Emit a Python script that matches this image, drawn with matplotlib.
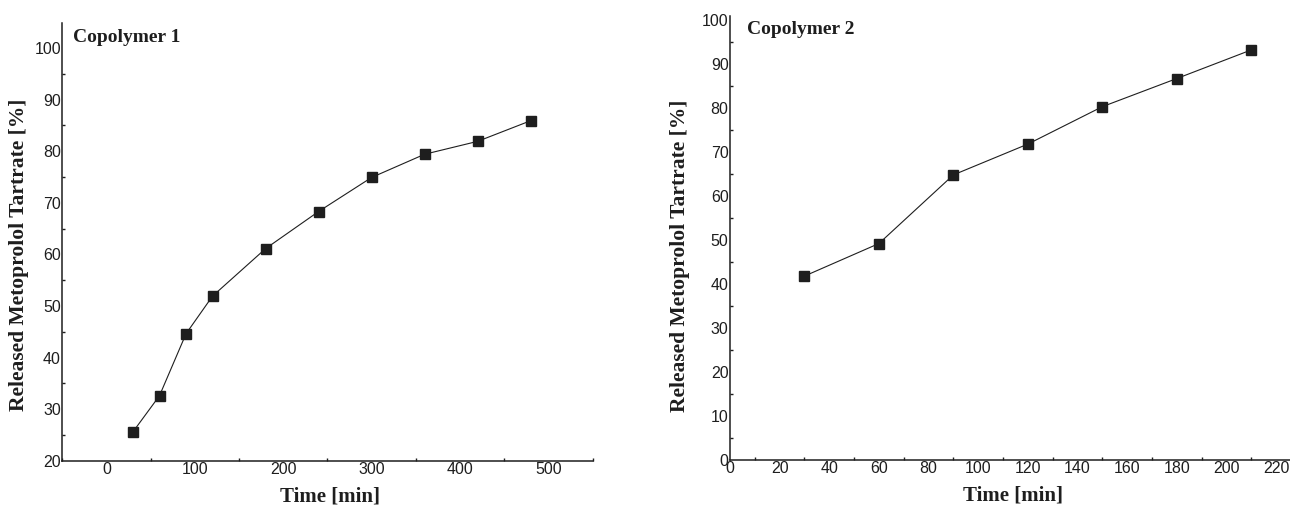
import numpy as np
import matplotlib.pyplot as plt
from matplotlib.ticker import MultipleLocator

# Copolymer 1 release data
time1 = [30, 60, 90, 120, 180, 240, 300, 360, 420, 480]
release1 = [25.6, 32.6, 44.6, 51.9, 61.1, 68.3, 74.9, 79.4, 81.9, 85.9]

# Copolymer 2 release data
time2 = [30, 60, 90, 120, 150, 180, 210]
release2 = [41.8, 49.2, 64.8, 71.8, 80.3, 86.7, 93.2]

ink = '#1e1e1e'
serif = 'Liberation Serif'
sans = 'Liberation Sans'

fig = plt.figure(figsize=(12.9, 5.08), dpi=100)
ax1 = fig.add_axes([62.3 / 1290, 47.3 / 508, (593.3 - 62.3) / 1290, (460.7 - 22.7) / 508])
ax2 = fig.add_axes([730 / 1290, 48 / 508, (1290 - 730) / 1290, (460 - 15.6) / 508])


def style(ax, xmajor, xminor, ymajor, yminor):
    for s in ['top', 'right']:
        ax.spines[s].set_visible(False)
    for s in ['left', 'bottom']:
        ax.spines[s].set_linewidth(1.1)
        ax.spines[s].set_color(ink)
    ax.xaxis.set_major_locator(MultipleLocator(xmajor))
    ax.xaxis.set_minor_locator(MultipleLocator(xminor))
    ax.yaxis.set_major_locator(MultipleLocator(ymajor))
    ax.yaxis.set_minor_locator(MultipleLocator(yminor))
    ax.tick_params(which='major', length=0, pad=1, labelsize=11.5, labelcolor=ink)
    ax.tick_params(which='minor', direction='in', length=2.5, width=1, color=ink)
    for lab in ax.get_xticklabels() + ax.get_yticklabels():
        lab.set_fontfamily(sans)
    ax.set_xlabel('Time [min]', fontfamily=serif, fontweight='bold', fontsize=15, color=ink)
    ax.set_ylabel('Released Metoprolol Tartrate [%]', fontfamily=serif, fontweight='bold',
                  fontsize=15.5, color=ink)


ax1.plot(time1, release1, color=ink, lw=0.8, marker='s', ms=6.5, mfc=ink, mec=ink)
ax1.set_xlim(-50, 550.9)
ax1.set_ylim(20, 104.9)
style(ax1, 100, 50, 10, 5)
ax1.xaxis.set_label_coords(0.505, -0.058)
ax1.yaxis.set_label_coords(-0.063, 0.47)

ax2.plot(time2, release2, color=ink, lw=0.8, marker='s', ms=6.5, mfc=ink, mec=ink)
ax2.set_xlim(0, 225.6)
ax2.set_ylim(0, 101)
style(ax2, 20, 10, 10, 5)
ax2.xaxis.set_label_coords(0.505, -0.058)
ax2.yaxis.set_label_coords(-0.071, 0.46)

ax1.text(73, 508 - 37, 'Copolymer 1', transform=None, fontfamily=serif, fontweight='bold',
         fontsize=14, color=ink, va='center')
ax2.text(747, 508 - 30, 'Copolymer 2', transform=None, fontfamily=serif, fontweight='bold',
         fontsize=14, color=ink, va='center')

fig.savefig('out.png', dpi=100)
